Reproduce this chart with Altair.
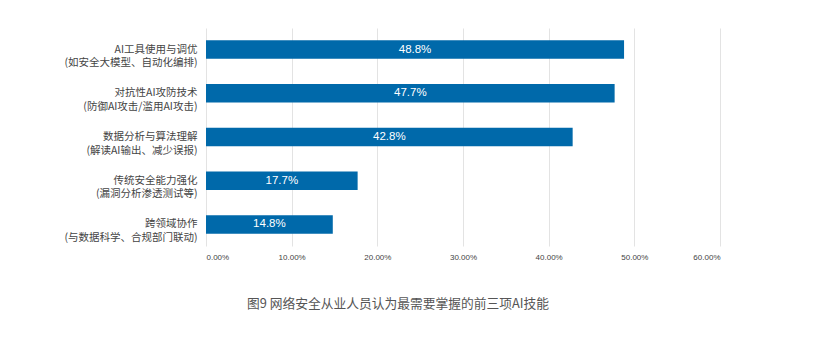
import altair as alt
import pandas as pd

categories = [
    "AI工具使用与调优\n(如安全大模型、自动化编排)",
    "对抗性AI攻防技术\n(防御AI攻击/滥用AI攻击)",
    "数据分析与算法理解\n(解读AI输出、减少误报)",
    "传统安全能力强化\n(漏洞分析渗透测试等)",
    "跨领域协作\n(与数据科学、合规部门联动)",
]
values = [0.488, 0.477, 0.428, 0.177, 0.148]
value_labels = ["48.8%", "47.7%", "42.8%", "17.7%", "14.8%"]
x_ticks = [0, 0.1, 0.2, 0.3, 0.4, 0.5, 0.6]
title_text = "图9 网络安全从业人员认为最需要掌握的前三项AI技能"

df = pd.DataFrame({"cat": categories, "v": values, "lab": value_labels})

font = "Noto Sans CJK SC"

base = alt.Chart(df).encode(
    y=alt.Y(
        "cat:N",
        sort=categories,
        title=None,
        scale=alt.Scale(paddingInner=0.577, paddingOuter=0.28),
        axis=alt.Axis(
            labelExpr="split(datum.label, '\\n')",
            labelFont=font,
            labelFontSize=10.5,
            labelColor="#444444",
            labelLineHeight=13.5,
            labelPadding=9,
            ticks=False,
            domain=False,
            labelLimit=300,
        ),
    )
)

bars = base.mark_bar(color="#0069AA").encode(
    x=alt.X(
        "v:Q",
        scale=alt.Scale(domain=[0, 0.6], nice=False),
        title=None,
        axis=alt.Axis(
            values=x_ticks,
            format=".2%",
            labelFont="Liberation Sans",
            labelFontSize=8,
            labelColor="#444444",
            grid=True,
            gridColor="#E3E3E3",
            ticks=False,
            domain=False,
            labelPadding=7,
        ),
    )
)

texts = base.mark_text(color="white", font="Liberation Sans", fontSize=11.5, align="center", baseline="middle").encode(
    x=alt.X("half:Q"),
    text="lab:N",
).transform_calculate(half="datum.v / 2")

chart = (
    alt.layer(bars, texts)
    .properties(
        width=514,
        height=218,
        autosize=alt.AutoSizeParams(type="none"),
        padding={"left": 198, "top": 20, "right": 80, "bottom": 100},
        title=alt.TitleParams(
            title_text,
            orient="bottom",
            font=font,
            fontSize=12.75,
            fontWeight="normal",
            color="#555555",
            dx=-65,
            offset=37,
        ),
    )
    .configure_view(stroke=None)
)

chart.save("out.html", embed_options={"renderer": "svg", "actions": False})
